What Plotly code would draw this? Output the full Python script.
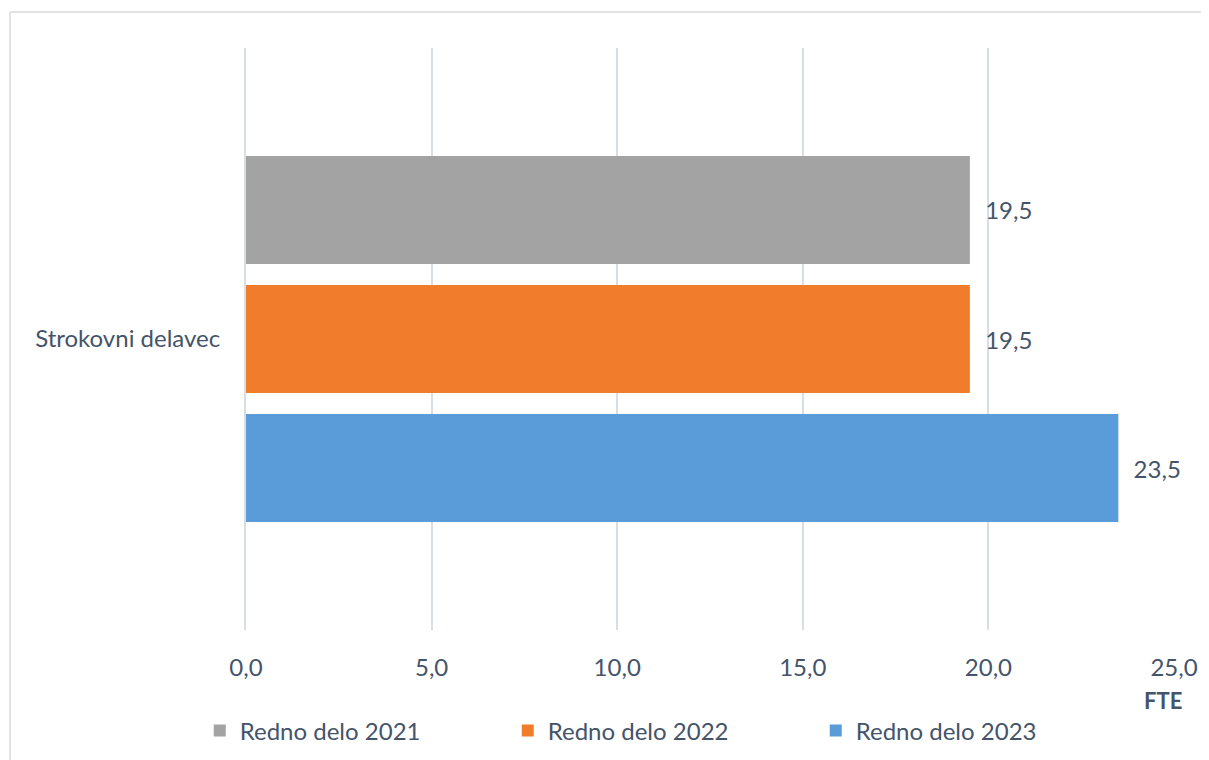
import plotly.graph_objects as go

categories = ["Strokovni delavec"]
series_names = ["Redno delo 2021", "Redno delo 2022", "Redno delo 2023"]
series_values = [[19.5], [19.5], [23.5]]
colors = ["#A3A3A3", "#F07C2C", "#5A9BDA"]
x_ticks = [0, 5, 10, 15, 20, 25]

TXT = "#44546A"
FONT = "Lato"
FS = 24

fig = go.Figure()
for name, vals, col in zip(series_names, series_values, colors):
    fig.add_trace(go.Bar(
        y=categories, x=vals, name=name, orientation="h",
        marker=dict(color=col, line=dict(width=0)),
        texttemplate="\u00a0\u00a0%{x:.1f}", textposition="outside",
        textfont=dict(color=TXT, size=FS, family=FONT),
        cliponaxis=False,
    ))

fig.update_layout(
    width=1201, height=752,
    margin=dict(l=238, r=35, t=40, b=130, autoexpand=False),
    paper_bgcolor="white", plot_bgcolor="white",
    separators=",.",
    barmode="group", bargap=0.335, bargroupgap=0.163,
    font=dict(family=FONT, color=TXT, size=FS),
    showlegend=True,
    legend=dict(orientation="h", x=0.448, y=-0.1735, xanchor="center", yanchor="middle",
                font=dict(size=FS, color=TXT, family=FONT), entrywidth=263,
                itemwidth=30, traceorder="normal"),
    xaxis=dict(range=[0, 25], tickvals=x_ticks, tickformat=".1f",
               showgrid=True, gridcolor="#D9DEE5", gridwidth=2, zeroline=False,
               showline=False, ticks="", ticklabelstandoff=21,
               tickfont=dict(size=FS, color=TXT, family=FONT)),
    yaxis=dict(autorange="reversed", showgrid=False, zeroline=False,
               showline=True, linecolor="#D9DEE5", linewidth=2, ticks="",
               ticklabelstandoff=19, tickfont=dict(size=FS, color=TXT, family=FONT)),
    shapes=[
        dict(type="line", xref="paper", yref="paper", x0=-0.2543, x1=1.0345, y0=1.0619, y1=1.0619,
             line=dict(color="#D9D9D9", width=1.5)),
        dict(type="line", xref="paper", yref="paper", x0=-0.2543, x1=-0.2543, y0=1.0619, y1=-0.23,
             line=dict(color="#D9D9D9", width=1.5)),
        dict(type="line", xref="paper", yref="paper", x0=1.0345, x1=1.0345, y0=1.0619, y1=-0.23,
             line=dict(color="#D9D9D9", width=1.5)),
    ],
    annotations=[dict(text="<b>FTE</b>", xref="paper", yref="paper", x=0.988, y=-0.1203,
                      xanchor="center", yanchor="middle", showarrow=False,
                      font=dict(size=FS - 2, color=TXT, family=FONT))],
)

fig.write_html("out.html")
